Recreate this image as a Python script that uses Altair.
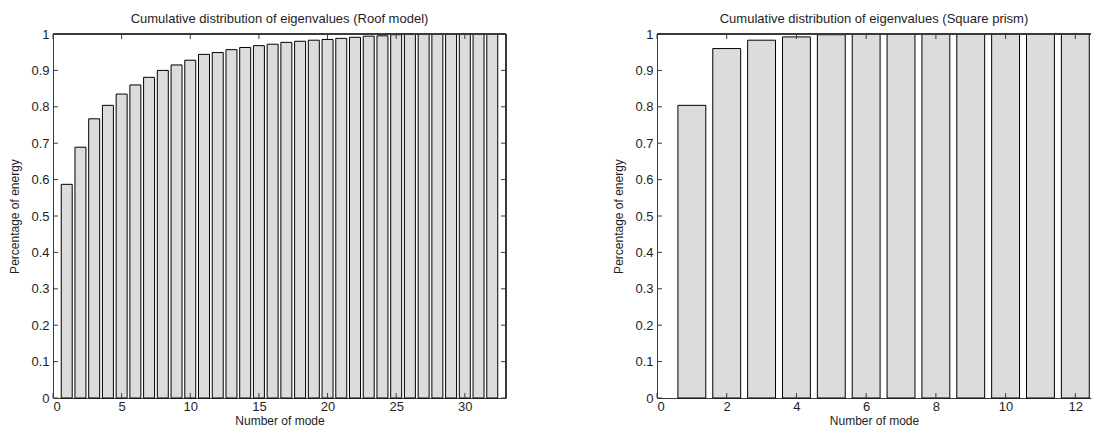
import altair as alt
import pandas as pd

# ---- data ----
roof_modes = list(range(1, 33))
roof_values = [0.587, 0.689, 0.767, 0.804, 0.835, 0.860, 0.881, 0.900, 0.915, 0.928,
               0.944, 0.949, 0.957, 0.963, 0.968, 0.972, 0.977, 0.980, 0.983, 0.985,
               0.988, 0.991, 0.994, 0.995, 0.998, 0.999, 0.999, 1.0, 1.0, 1.0, 1.0, 1.0]

prism_modes = list(range(1, 13))
prism_values = [0.804, 0.960, 0.983, 0.992, 0.998, 1.0, 1.0, 1.0, 1.0, 1.0, 1.0, 1.0]

y_ticks = [0, 0.1, 0.2, 0.3, 0.4, 0.5, 0.6, 0.7, 0.8, 0.9, 1.0]
roof_x_ticks = [0, 5, 10, 15, 20, 25, 30]
prism_x_ticks = [0, 2, 4, 6, 8, 10, 12]

FONT = "Liberation Sans"
TEXT = "#1e1e1e"
AXIS = "#3a3a3a"
BAR_FILL = "#dcdcdc"
TICK_LEN = 5
H = 364


def panel(modes, values, x_ticks, x_domain, width, title, right_border=True):
    df = pd.DataFrame({"mode": modes, "value": values})
    xs = alt.Scale(domain=x_domain, nice=False, zero=False)
    ys = alt.Scale(domain=[0, 1], nice=False)

    bars = alt.Chart(df).transform_calculate(
        x0="datum.mode - 0.4", x1="datum.mode + 0.4"
    ).mark_bar(fill=BAR_FILL, stroke="black", strokeWidth=1).encode(
        x=alt.X("x0:Q", scale=xs,
                axis=alt.Axis(values=x_ticks, title="Number of mode", format="d",
                              labelOverlap=False)),
        x2="x1:Q",
        y=alt.Y("value:Q", scale=ys,
                axis=alt.Axis(values=y_ticks, title="Percentage of energy", format="~g",
                              labelOverlap=False)),
        y2=alt.datum(0),
    )

    ydf = pd.DataFrame({"t": y_ticks})
    xdf = pd.DataFrame({"t": x_ticks})

    y_left = alt.Chart(ydf).mark_rule(color=AXIS).encode(
        y=alt.Y("t:Q", scale=ys, axis=None),
        x=alt.value(0), x2=alt.value(TICK_LEN))
    x_bottom = alt.Chart(xdf).mark_rule(color=AXIS).encode(
        x=alt.X("t:Q", scale=xs, axis=None),
        y=alt.value(H), y2=alt.value(H - TICK_LEN))
    x_top = alt.Chart(xdf).mark_rule(color=AXIS).encode(
        x=alt.X("t:Q", scale=xs, axis=None),
        y=alt.value(0), y2=alt.value(TICK_LEN))
    top_border = alt.Chart(xdf).mark_rule(color=AXIS).encode(
        x=alt.value(0), x2=alt.value(width), y=alt.value(0))

    layers = [bars, y_left, x_bottom, x_top, top_border]
    if right_border:
        y_right = alt.Chart(ydf).mark_rule(color=AXIS).encode(
            y=alt.Y("t:Q", scale=ys, axis=None),
            x=alt.value(width - TICK_LEN), x2=alt.value(width))
        r_border = alt.Chart(ydf).mark_rule(color=AXIS).encode(
            x=alt.value(width), y=alt.value(0), y2=alt.value(H))
        layers += [y_right, r_border]

    return alt.layer(*layers).resolve_axis(x="independent", y="independent").properties(
        width=width, height=H,
        title=alt.TitleParams(title, fontSize=13, font=FONT, fontWeight="normal",
                              color=TEXT, offset=2),
    )


left = panel(roof_modes, roof_values, roof_x_ticks, [0, 33], 453,
             "Cumulative distribution of eigenvalues (Roof model)")
right = panel(prism_modes, prism_values, prism_x_ticks, [0, 12.45], 434,
              "Cumulative distribution of eigenvalues (Square prism)", right_border=False)

chart = alt.hconcat(left, right, spacing=105).properties(
    padding={"left": 0, "top": 5, "right": 0, "bottom": 0},
    background="white",
).configure_view(stroke=None).configure_axis(
    grid=False, ticks=False, tickSize=0, domainColor=AXIS, domainWidth=1,
    labelFont=FONT, labelFontSize=13, labelColor=TEXT, labelPadding=4,
    titleFont=FONT, titleFontSize=12, titleFontWeight="normal", titleColor=TEXT,
    titlePadding=9,
).configure_axisX(labelPadding=2, titlePadding=2)

chart.save("out.html", embed_options={"renderer": "svg", "actions": False})
